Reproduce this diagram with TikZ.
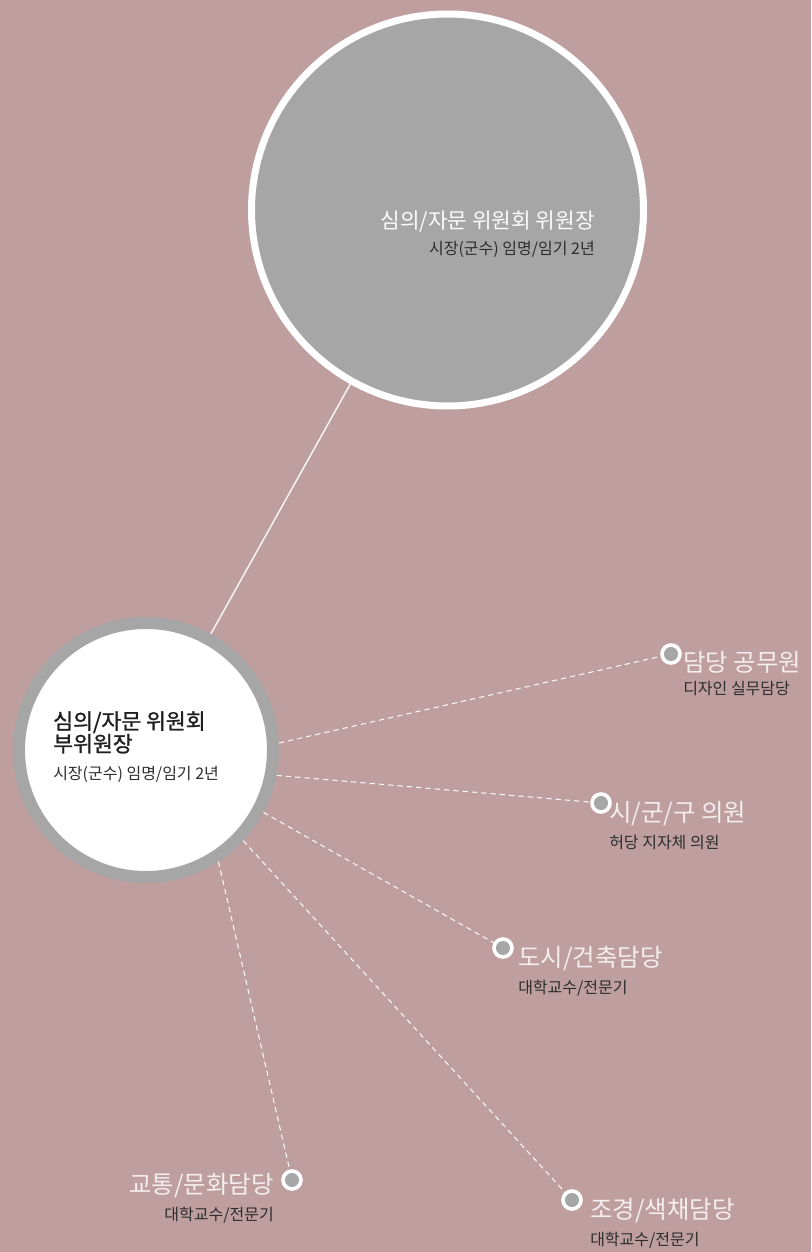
\documentclass[tikz,border=0pt]{standalone}
\usepackage{fontspec}
\setmainfont{Noto Sans CJK KR}
\newfontfamily\krbold{Noto Sans CJK KR}[FakeBold=1.2]
\usetikzlibrary{positioning}
\definecolor{bgc}{RGB}{190,158,159}
\definecolor{greyc}{RGB}{166,166,166}
\definecolor{lightc}{RGB}{245,238,238}
\definecolor{darkc}{RGB}{45,45,45}

\begin{document}
\begin{tikzpicture}[x=0.75pt, y=-0.75pt,
        chair/.style = {circle, draw=white, fill=greyc, line width=5.25pt,
                        minimum size=294pt, inner sep=0pt},
         vice/.style = {circle, draw=greyc, fill=white, line width=9pt,
                        minimum size=190.5pt, inner sep=0pt},
          dot/.style = {circle, draw=white, fill=greyc, line width=2.7pt,
                        minimum size=13.5pt, inner sep=0pt},
         link/.style = {white!90!bgc, line width=1.1pt},
        dline/.style = {white!92!bgc, line width=0.8pt, dash pattern=on 4pt off 3pt},
          ttl/.style = {lightc, inner sep=0pt, font=\fontsize{18.3}{20}\selectfont},
         note/.style = {darkc, inner sep=0pt, font=\fontsize{12}{14}\selectfont}
                                ]
        % background
        \fill[bgc] (0,0) rectangle (811,1252);
        \useasboundingbox (0,0) rectangle (811,1252);

        % the two big circles
        \node[chair] (chair) at (447.5,210) {};
        \node[vice]  (vice)  at (146,750) {};
        \draw[link] (chair) -- (vice);

        % texts inside
        \node[ttl, white!95!greyc, anchor=east, font=\fontsize{16}{18}\selectfont]
              (ct) at (595,222) {심의/자문 위원회 위원장};
        \node[note, below=6pt of ct.south east, anchor=north east] (cn)
              {시장(군수) 임명/임기 2년};
        \node[inner sep=0pt, anchor=north west, align=left, text=black!88,
              font=\krbold\fontsize{16.2}{17}\selectfont]
              (vt) at (53,711) {심의/자문 위원회\\부위원장};
        \node[note, below=9pt of vt.south west, anchor=north west] (vn)
              {시장(군수) 임명/임기 2년};

        % members
        \node[dot] (m1) at (671,654) {};
        \node[dot] (m2) at (601,803) {};
        \node[dot] (m3) at (503,948) {};
        \node[dot] (m4) at (572,1200) {};
        \node[dot] (m5) at (292,1180) {};

        \draw[dline] (vice.3.5)   -- (m1);
        \draw[dline] (vice.-11.6) -- (m2);
        \draw[dline] (vice.-28.6) -- (m3);
        \draw[dline] (vice.-43.8) -- (m4);
        \draw[dline] (vice.-57)   -- (m5);

        \node[ttl, anchor=west] (t1) at (683,662) {담당 공무원};
        \node[note, below=6pt of t1.south west, anchor=north west] {디자인 실무담당};
        \node[ttl, anchor=west] (t2) at (609,814) {시/군/구 의원};
        \node[note, below=6pt of t2.south west, anchor=north west] {허당 지자체 의원};
        \node[ttl, anchor=west] (t3) at (518,959) {도시/건축담당};
        \node[note, below=6pt of t3.south west, anchor=north west] {대학교수/전문기};
        \node[ttl, anchor=west] (t4) at (590,1211) {조경/색채담당};
        \node[note, below=6pt of t4.south west, anchor=north west] {대학교수/전문기};
        \node[ttl, anchor=east] (t5) at (274,1186) {교통/문화담당};
        \node[note, below=6pt of t5.south east, anchor=north east] {대학교수/전문기};

    \end{tikzpicture}
\end{document}
